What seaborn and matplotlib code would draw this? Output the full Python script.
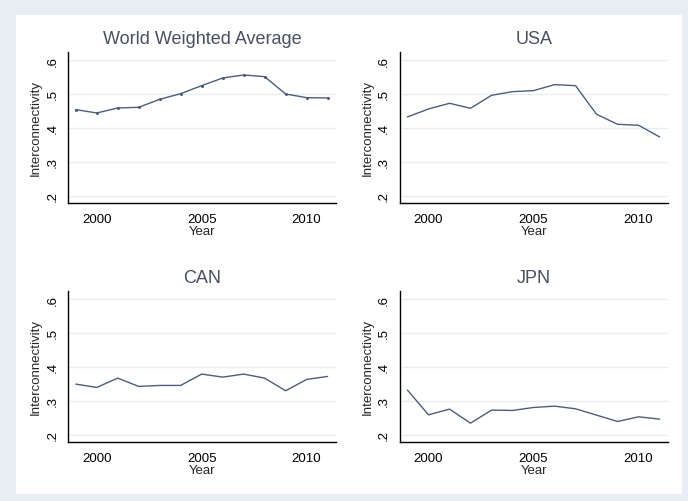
import matplotlib
matplotlib.use("Agg")
import matplotlib.pyplot as plt
import seaborn as sns
import pandas as pd

years = [1999, 2000, 2001, 2002, 2003, 2004, 2005, 2006, 2007, 2008, 2009, 2010, 2011]
world = [0.4535, 0.4437, 0.4584, 0.4604, 0.4840, 0.5007, 0.5243, 0.5469, 0.5558, 0.5508, 0.4997, 0.4889, 0.4879]
usa = [0.4320, 0.4555, 0.4722, 0.4575, 0.4958, 0.5066, 0.5096, 0.5273, 0.5243, 0.4398, 0.4103, 0.4074, 0.3730]
can = [0.3494, 0.3396, 0.3670, 0.3425, 0.3455, 0.3455, 0.3789, 0.3700, 0.3789, 0.3670, 0.3297, 0.3631, 0.3720]
jpn = [0.3317, 0.2590, 0.2757, 0.2344, 0.2728, 0.2718, 0.2806, 0.2845, 0.2767, 0.2580, 0.2393, 0.2531, 0.2462]

panels = ["World Weighted Average", "USA", "CAN", "JPN"]
series = [world, usa, can, jpn]
x_ticks = [2000, 2005, 2010]
y_ticks = [0.2, 0.3, 0.4, 0.5, 0.6]
y_tick_labels = [".2", ".3", ".4", ".5", ".6"]

sns.set_theme(style="white")
plt.rcParams["font.family"] = ["Liberation Sans", "DejaVu Sans"]

BG = "#e8eef3"
LINE = "#4d5e7a"
GRID = "#e6eef2"
TITLE = "#4a5062"

fig = plt.figure(figsize=(6.88, 5.02), dpi=100, facecolor=BG)

# white plot region inside the light border
frame = plt.Rectangle((16 / 688, 1 - 495 / 502), (682 - 16) / 688, (495 - 16) / 502,
                      transform=fig.transFigure, facecolor="white", edgecolor="none",
                      zorder=-10)
fig.add_artist(frame)

W, H = 688, 502
boxes = [(68, 52.7, 336, 204), (399.7, 52.7, 668, 204),
         (68, 291.7, 336, 443.3), (399.7, 291.7, 668, 443.3)]

for name, vals, (x0, y0, x1, y1) in zip(panels, series, boxes):
    ax = fig.add_axes([x0 / W, 1 - y1 / H, (x1 - x0) / W, (y1 - y0) / H])
    ax.set_facecolor("white")
    df = pd.DataFrame({"Year": years, "Interconnectivity": vals})
    if name == "World Weighted Average":
        sns.lineplot(data=df, x="Year", y="Interconnectivity", ax=ax, color=LINE,
                     linewidth=1.0, marker="o", markersize=2.2, markeredgewidth=0)
    else:
        sns.lineplot(data=df, x="Year", y="Interconnectivity", ax=ax, color=LINE,
                     linewidth=1.0)
    ax.set_xlim(1998.63, 2011.4)
    ax.set_ylim(0.178, 0.6245)
    ax.set_xticks(x_ticks)
    ax.set_xticklabels([str(t) for t in x_ticks], fontsize=9.5)
    ax.set_yticks(y_ticks)
    ax.set_yticklabels(y_tick_labels, fontsize=9.5, rotation=90, va="center")
    ax.grid(axis="y", color=GRID, linewidth=1.0)
    ax.grid(axis="x", visible=False)
    for side in ["top", "right"]:
        ax.spines[side].set_visible(False)
    for side in ["left", "bottom"]:
        ax.spines[side].set_color("black")
        ax.spines[side].set_linewidth(1.0)
    ax.tick_params(axis="both", direction="out", length=5, width=0.8, color="black",
                   pad=2, labelcolor="black")
    ax.set_xlabel("Year", fontsize=9.5, labelpad=0)
    ax.set_ylabel("Interconnectivity", fontsize=9.5, labelpad=3)
    ax.set_title(name, fontsize=13, color=TITLE, pad=6)

fig.savefig("out.png", dpi=100, facecolor=BG)
